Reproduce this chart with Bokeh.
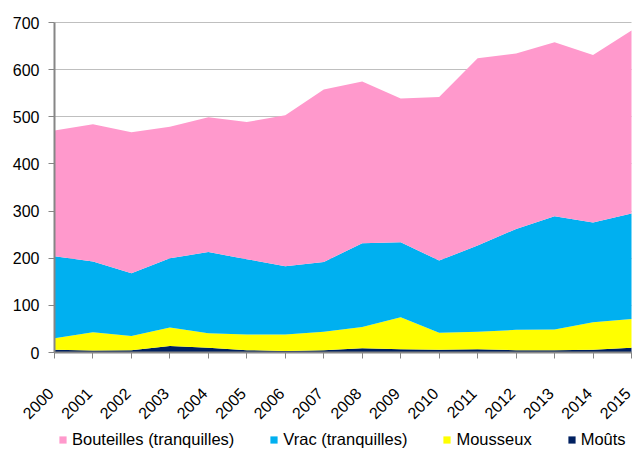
import math
from bokeh.plotting import figure
from bokeh.models import ColumnDataSource, Legend, LegendItem, FixedTicker, Range1d
from bokeh.core.properties import value
from bokeh.embed import file_html
from bokeh.resources import INLINE

years = list(range(2000, 2016))
year_labels = [str(y) for y in years]
mouts = [6, 4, 5, 14, 10, 5, 3, 5, 9, 7, 6, 7, 5, 5, 6, 10]
mousseux = [24, 39, 30, 39, 31, 33, 35, 39, 45, 68, 36, 37, 43, 44, 58, 61]
vrac = [174, 150, 133, 147, 172, 160, 145, 148, 178, 159, 153, 183, 214, 240, 212, 224]
bouteilles = [267, 291, 299, 279, 286, 291, 320, 366, 343, 305, 347, 397, 372, 369, 355, 388]
y_ticks = [0, 100, 200, 300, 400, 500, 600, 700]

labels = ["Bouteilles (tranquilles)", "Vrac (tranquilles)", "Mousseux", "Moûts"]
colors = ["#FF99CC", "#00B0F0", "#FFFF00", "#002060"]

source = ColumnDataSource(dict(year=years, mouts=mouts, mousseux=mousseux,
                               vrac=vrac, bouteilles=bouteilles))

FONT = "Liberation Sans"

W, H = 634, 449
# plot area in canvas pixels: x 54..631, y 22..352
PX_L, PX_R, PY_T, PY_B = 54, 631, 22, 352
X0, X1 = years[0], years[-1]
Y0, Y1 = 0, 700
xs = (X1 - X0) / (PX_R - PX_L)
ys = (Y1 - Y0) / (PY_B - PY_T)
x_range = Range1d(X0 - PX_L * xs, X1 + (W - PX_R) * xs)
y_range = Range1d(Y0 - (H - PY_B) * ys, Y1 + PY_T * ys)

p = figure(width=W, height=H, output_backend="svg", toolbar_location=None,
           x_range=x_range, y_range=y_range,
           min_border_left=0, min_border_top=0, min_border_right=0, min_border_bottom=0)

rs = p.varea_stack(stackers=["mouts", "mousseux", "vrac", "bouteilles"], x="year",
                   color=[colors[3], colors[2], colors[1], colors[0]], source=source)

p.outline_line_color = None
p.xgrid.grid_line_color = None
p.ygrid.grid_line_color = "#BFBFBF"
p.ygrid.grid_line_width = 1
p.ygrid.level = "underlay"
p.ygrid.cross_bounds = (X0, X1)

p.xaxis.ticker = FixedTicker(ticks=years)
p.xaxis.fixed_location = Y0
p.xaxis.bounds = (X0, X1)
p.xaxis.major_label_text_color = None
p.yaxis.ticker = FixedTicker(ticks=y_ticks)
p.yaxis.fixed_location = X0
p.yaxis.bounds = (Y0, Y1)

for ax in (p.xaxis[0], p.yaxis[0]):
    ax.axis_line_color = "#868686"
    ax.axis_line_width = 2
    ax.major_tick_line_color = "#868686"
    ax.major_tick_out = 6
    ax.major_tick_in = 0
    ax.minor_tick_line_color = None
    ax.major_label_text_font = FONT
    ax.major_label_text_font_size = "16px"
p.yaxis.major_label_text_color = "#000000"
p.yaxis.major_label_standoff = 9

# rotated year labels under the x axis
p.text(x=years, y=[Y0] * len(years), text=year_labels, angle=math.pi / 4,
       x_offset=-4, y_offset=38, text_align="right", text_baseline="middle",
       text_font=value(FONT), text_font_size="16px", text_color="#000000")

items = [LegendItem(label=labels[0], renderers=[rs[3]]),
         LegendItem(label=labels[1], renderers=[rs[2]]),
         LegendItem(label=labels[2], renderers=[rs[1]]),
         LegendItem(label=labels[3], renderers=[rs[0]])]
legend = Legend(items=items, orientation="horizontal", location=(PX_L + 4, 0),
                glyph_width=9, glyph_height=9, label_standoff=5, spacing=35,
                padding=0, margin=0, border_line_color=None, background_fill_alpha=0,
                label_text_font=FONT, label_text_font_size="16.5px", label_text_color="#000000")
p.add_layout(legend, "center")

open("out.html", "w").write(file_html(p, INLINE))
